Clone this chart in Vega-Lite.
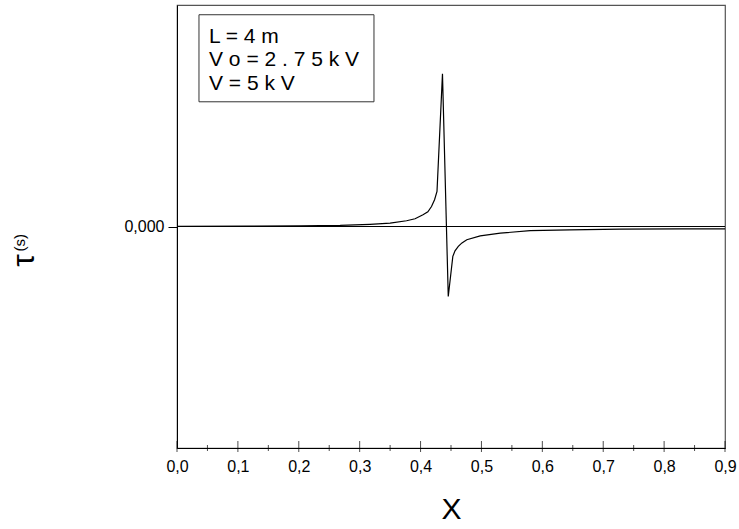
{
  "$schema": "https://vega.github.io/schema/vega-lite/v6.json",
  "width": 548,
  "height": 443,
  "autosize": {"type": "none"},
  "padding": {"left": 177, "top": 5, "right": 14, "bottom": 81},
  "background": "white",
  "config": {
    "font": "Liberation Sans",
    "view": {"stroke": "#555", "strokeWidth": 1.2},
    "axis": {"grid": false, "domainColor": "black", "tickColor": "black", "labelColor": "black", "titleColor": "black", "titleFontWeight": "normal", "labelFont": "Liberation Sans", "titleFont": "Liberation Sans"}
  },
  "layer": [
    {
      "data": {"values": [{}]},
      "mark": {"type": "rule", "color": "black", "strokeWidth": 1},
      "encoding": {"y": {"datum": 0, "type": "quantitative"}}
    },
    {
      "data": {"values": [
        {"x": 0.000, "y": 0.001},
        {"x": 0.120, "y": 0.002},
        {"x": 0.202, "y": 0.003},
        {"x": 0.268, "y": 0.005},
        {"x": 0.317, "y": 0.010},
        {"x": 0.350, "y": 0.015},
        {"x": 0.377, "y": 0.026},
        {"x": 0.391, "y": 0.035},
        {"x": 0.404, "y": 0.053},
        {"x": 0.412, "y": 0.066},
        {"x": 0.418, "y": 0.090},
        {"x": 0.423, "y": 0.121},
        {"x": 0.427, "y": 0.158},
        {"x": 0.436, "y": 0.689},
        {"x": 0.4455, "y": -0.316},
        {"x": 0.453, "y": -0.135},
        {"x": 0.4566, "y": -0.110},
        {"x": 0.462, "y": -0.090},
        {"x": 0.468, "y": -0.074},
        {"x": 0.476, "y": -0.060},
        {"x": 0.498, "y": -0.042},
        {"x": 0.531, "y": -0.030},
        {"x": 0.580, "y": -0.019},
        {"x": 0.645, "y": -0.015},
        {"x": 0.728, "y": -0.012},
        {"x": 0.826, "y": -0.011},
        {"x": 0.900, "y": -0.0105}
      ]},
      "mark": {"type": "line", "color": "black", "strokeWidth": 1.2},
      "encoding": {
        "x": {
          "field": "x", "type": "quantitative",
          "scale": {"domain": [0, 0.9], "nice": false, "zero": false},
          "axis": {
            "values": [0, 0.1, 0.2, 0.3, 0.4, 0.5, 0.6, 0.7, 0.8, 0.9],
            "labelExpr": "replace(format(datum.value, '.1f'), '.', ',')",
            "labelFontSize": 16,
            "labelPadding": 10,
            "labelFlush": false,
            "labelOverlap": false,
            "ticks": false,
            "tickSize": 0,
            "title": "X",
            "titleFontSize": 30,
            "titleY": 70,
            "titleBaseline": "alphabetic"
          }
        },
        "y": {
          "field": "y", "type": "quantitative",
          "scale": {"domain": [-1, 1], "nice": false, "zero": false},
          "axis": {
            "values": [0],
            "labelExpr": "'0,000'",
            "labelFontSize": 16,
            "labelPadding": 4,
            "tickSize": 9,
            "title": "τ",
            "titleFontSize": 32,
            "titleAngle": 270,
            "titleX": -144,
            "titleY": 255,
            "titleAlign": "center",
            "titleBaseline": "alphabetic"
          }
        }
      }
    },
    {
      "data": {"values": [{"x": 0.0}, {"x": 0.1}, {"x": 0.2}, {"x": 0.3}, {"x": 0.4}, {"x": 0.5}, {"x": 0.6}, {"x": 0.7}, {"x": 0.8}, {"x": 0.9}]},
      "mark": {"type": "tick", "orient": "vertical", "color": "black", "thickness": 1, "size": 11, "yOffset": -1.5, "clip": false},
      "encoding": {
        "x": {"field": "x", "type": "quantitative"},
        "y": {"datum": -1, "type": "quantitative"}
      }
    },
    {
      "data": {"values": [{"x": 0.05}, {"x": 0.15}, {"x": 0.25}, {"x": 0.35}, {"x": 0.45}, {"x": 0.55}, {"x": 0.65}, {"x": 0.75}, {"x": 0.85}]},
      "mark": {"type": "tick", "orient": "vertical", "color": "black", "thickness": 1, "size": 6, "clip": false},
      "encoding": {
        "x": {"field": "x", "type": "quantitative"},
        "y": {"datum": -1, "type": "quantitative"}
      }
    },
    {
      "data": {"values": [{}]},
      "mark": {"type": "rect", "fill": "white", "fillOpacity": 0, "stroke": "#333", "strokeWidth": 1},
      "encoding": {
        "x": {"datum": 0.0361, "type": "quantitative"},
        "x2": {"datum": 0.3235},
        "y": {"datum": 0.956, "type": "quantitative"},
        "y2": {"datum": 0.563}
      }
    },
    {
      "data": {"values": [{}]},
      "mark": {"type": "text", "text": ["L = 4 m", "V o = 2 . 7 5 k V", "V = 5 k V"], "align": "left", "baseline": "alphabetic", "fontSize": 21, "lineHeight": 23.3, "color": "black", "font": "Liberation Sans"},
      "encoding": {
        "x": {"datum": 0.0526, "type": "quantitative"},
        "y": {"datum": 0.828, "type": "quantitative"}
      }
    },
    {
      "data": {"values": [{}]},
      "mark": {"type": "text", "text": "(s)", "angle": 270, "align": "center", "baseline": "alphabetic", "fontSize": 15, "color": "black", "font": "Liberation Sans"},
      "encoding": {
        "x": {"datum": -0.2491, "type": "quantitative"},
        "y": {"datum": -0.0736, "type": "quantitative"}
      }
    }
  ]
}
